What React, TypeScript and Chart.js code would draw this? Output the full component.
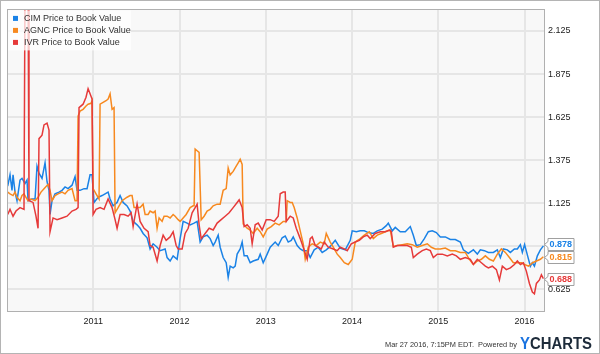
import React, { useEffect, useRef } from "react";
import { Chart, registerables } from "chart.js";

Chart.register(...registerables);

// ---- Data (decimal years, price-to-book values) ----
const CIM_DATES = [2010.008, 2010.035, 2010.058, 2010.070, 2010.093, 2010.116, 2010.151, 2010.174, 2010.209, 2010.232, 2010.244, 2010.290, 2010.325, 2010.348, 2010.371, 2010.406, 2010.441, 2010.464, 2010.487, 2010.499, 2010.522, 2010.557, 2010.603, 2010.638, 2010.673, 2010.708, 2010.754, 2010.789, 2010.812, 2010.847, 2010.893, 2010.928, 2010.963, 2010.986, 2011.009, 2011.056, 2011.102, 2011.137, 2011.172, 2011.195, 2011.230, 2011.276, 2011.311, 2011.346, 2011.392, 2011.427, 2011.462, 2011.508, 2011.543, 2011.578, 2011.624, 2011.659, 2011.694, 2011.740, 2011.775, 2011.833, 2011.856, 2011.891, 2011.926, 2011.972, 2012.007, 2012.042, 2012.088, 2012.123, 2012.169, 2012.204, 2012.239, 2012.274, 2012.320, 2012.355, 2012.390, 2012.413, 2012.448, 2012.471, 2012.506, 2012.541, 2012.564, 2012.587, 2012.622, 2012.645, 2012.668, 2012.703, 2012.726, 2012.749, 2012.784, 2012.819, 2012.854, 2012.912, 2012.935, 2012.970, 2013.016, 2013.051, 2013.109, 2013.144, 2013.190, 2013.225, 2013.260, 2013.295, 2013.318, 2013.364, 2013.399, 2013.434, 2013.480, 2013.515, 2013.561, 2013.608, 2013.654, 2013.701, 2013.747, 2013.805, 2013.863, 2013.921, 2013.979, 2014.002, 2014.049, 2014.095, 2014.142, 2014.188, 2014.246, 2014.292, 2014.350, 2014.397, 2014.420, 2014.466, 2014.501, 2014.559, 2014.617, 2014.675, 2014.710, 2014.745, 2014.791, 2014.838, 2014.884, 2014.930, 2014.977, 2015.023, 2015.081, 2015.139, 2015.197, 2015.255, 2015.290, 2015.348, 2015.406, 2015.452, 2015.487, 2015.534, 2015.580, 2015.638, 2015.684, 2015.719, 2015.754, 2015.800, 2015.835, 2015.882, 2015.916, 2015.951, 2015.974, 2016.000, 2016.035, 2016.067, 2016.090, 2016.114, 2016.148, 2016.183, 2016.218];
const CIM_VALUES = [1.225, 1.29, 1.20, 1.29, 1.19, 1.14, 1.26, 1.27, 1.24, 1.26, 1.14, 1.15, 1.15, 1.34, 1.30, 1.27, 1.36, 1.25, 1.20, 1.06, 1.14, 1.18, 1.19, 1.20, 1.22, 1.21, 1.23, 1.28, 1.20, 1.20, 1.21, 1.21, 1.29, 1.29, 1.13, 1.16, 1.17, 1.18, 1.19, 1.15, 1.11, 1.13, 1.17, 1.13, 1.11, 1.08, 1.02, 1.00, 0.98, 0.95, 0.925, 0.86, 0.89, 0.87, 0.85, 0.86, 0.81, 0.79, 0.82, 0.80, 0.92, 1.02, 1.01, 1.00, 1.01, 1.02, 0.90, 0.93, 0.94, 0.92, 0.88, 0.90, 0.94, 0.87, 0.81, 0.78, 0.695, 0.76, 0.75, 0.76, 0.83, 0.86, 0.90, 0.82, 0.82, 0.78, 0.79, 0.80, 0.83, 0.78, 0.83, 0.87, 0.90, 0.88, 0.925, 0.935, 0.90, 0.91, 0.93, 0.88, 0.86, 0.85, 0.85, 0.81, 0.855, 0.87, 0.84, 0.855, 0.875, 0.91, 0.865, 0.855, 0.91, 0.965, 0.96, 0.965, 0.965, 0.955, 0.95, 0.965, 0.975, 0.995, 1.01, 0.965, 0.985, 0.96, 0.96, 0.99, 0.94, 0.88, 0.885, 0.92, 0.96, 0.965, 0.955, 0.93, 0.93, 0.915, 0.915, 0.90, 0.855, 0.835, 0.855, 0.83, 0.855, 0.85, 0.84, 0.84, 0.855, 0.81, 0.86, 0.855, 0.84, 0.86, 0.86, 0.885, 0.84, 0.885, 0.82, 0.76, 0.78, 0.76, 0.82, 0.855, 0.878];

const AGNC_DATES = [2010.008, 2010.035, 2010.070, 2010.093, 2010.116, 2010.151, 2010.174, 2010.197, 2010.220, 2010.244, 2010.278, 2010.325, 2010.360, 2010.394, 2010.429, 2010.476, 2010.499, 2010.522, 2010.557, 2010.592, 2010.638, 2010.673, 2010.708, 2010.754, 2010.789, 2010.812, 2010.824, 2010.847, 2010.882, 2010.916, 2010.940, 2010.974, 2010.986, 2010.998, 2011.032, 2011.067, 2011.079, 2011.114, 2011.148, 2011.172, 2011.195, 2011.218, 2011.241, 2011.253, 2011.288, 2011.334, 2011.392, 2011.427, 2011.450, 2011.473, 2011.508, 2011.543, 2011.578, 2011.601, 2011.636, 2011.659, 2011.694, 2011.717, 2011.740, 2011.763, 2011.798, 2011.821, 2011.856, 2011.891, 2011.926, 2011.949, 2011.984, 2012.007, 2012.042, 2012.077, 2012.123, 2012.158, 2012.169, 2012.181, 2012.204, 2012.227, 2012.251, 2012.285, 2012.320, 2012.355, 2012.390, 2012.436, 2012.471, 2012.506, 2012.541, 2012.564, 2012.587, 2012.622, 2012.657, 2012.680, 2012.703, 2012.726, 2012.738, 2012.784, 2012.819, 2012.854, 2012.900, 2012.935, 2012.970, 2013.016, 2013.063, 2013.109, 2013.155, 2013.202, 2013.237, 2013.248, 2013.283, 2013.306, 2013.329, 2013.364, 2013.399, 2013.434, 2013.457, 2013.492, 2013.538, 2013.584, 2013.631, 2013.677, 2013.701, 2013.747, 2013.782, 2013.828, 2013.863, 2013.910, 2013.956, 2014.002, 2014.037, 2014.095, 2014.142, 2014.200, 2014.246, 2014.292, 2014.339, 2014.385, 2014.443, 2014.478, 2014.524, 2014.582, 2014.640, 2014.698, 2014.756, 2014.814, 2014.872, 2014.919, 2014.965, 2015.023, 2015.081, 2015.139, 2015.197, 2015.255, 2015.313, 2015.360, 2015.406, 2015.452, 2015.499, 2015.545, 2015.592, 2015.638, 2015.684, 2015.731, 2015.777, 2015.824, 2015.870, 2015.916, 2015.963, 2016.000, 2016.046, 2016.093, 2016.137, 2016.183, 2016.218];
const AGNC_VALUES = [1.19, 1.18, 1.17, 1.19, 1.16, 1.14, 1.17, 1.18, 1.16, 1.14, 1.15, 1.14, 1.16, 1.19, 1.21, 1.235, 1.20, 1.14, 1.17, 1.18, 1.19, 1.18, 1.20, 1.21, 1.14, 1.14, 1.63, 1.66, 1.67, 1.69, 1.70, 1.705, 1.72, 1.21, 1.18, 1.15, 1.70, 1.71, 1.72, 1.73, 1.76, 1.67, 1.68, 1.07, 1.10, 1.14, 1.16, 1.17, 1.17, 1.10, 1.10, 1.10, 1.12, 1.06, 1.06, 1.08, 1.07, 1.08, 0.98, 1.04, 1.02, 1.05, 1.05, 1.04, 1.06, 1.05, 1.03, 1.02, 1.04, 1.06, 1.10, 1.11, 1.11, 1.44, 1.43, 1.42, 1.03, 1.05, 1.08, 1.09, 1.11, 1.12, 1.12, 1.20, 1.21, 1.33, 1.29, 1.31, 1.34, 1.36, 1.38, 1.35, 1.005, 0.98, 0.97, 0.95, 0.98, 0.96, 0.93, 0.975, 0.99, 1.01, 1.00, 1.02, 1.02, 1.14, 1.13, 1.13, 1.10, 1.04, 0.965, 0.89, 0.80, 0.87, 0.89, 0.88, 0.90, 0.89, 0.95, 0.90, 0.87, 0.83, 0.81, 0.78, 0.77, 0.80, 0.90, 0.92, 0.94, 0.96, 0.92, 0.94, 0.95, 0.96, 0.97, 0.875, 0.88, 0.885, 0.89, 0.885, 0.87, 0.88, 0.89, 0.87, 0.86, 0.86, 0.865, 0.85, 0.85, 0.84, 0.84, 0.80, 0.77, 0.79, 0.80, 0.82, 0.80, 0.79, 0.83, 0.86, 0.84, 0.81, 0.78, 0.78, 0.78, 0.77, 0.76, 0.78, 0.79, 0.80, 0.815];

const IVR_DATES = [2010.008, 2010.035, 2010.070, 2010.104, 2010.151, 2010.197, 2010.209, 2010.244, 2010.255, 2010.302, 2010.336, 2010.360, 2010.371, 2010.406, 2010.429, 2010.464, 2010.487, 2010.499, 2010.534, 2010.580, 2010.638, 2010.696, 2010.754, 2010.800, 2010.824, 2010.835, 2010.882, 2010.916, 2010.940, 2010.963, 2010.986, 2010.998, 2011.032, 2011.079, 2011.125, 2011.172, 2011.218, 2011.253, 2011.276, 2011.311, 2011.357, 2011.404, 2011.439, 2011.462, 2011.508, 2011.543, 2011.589, 2011.636, 2011.659, 2011.694, 2011.740, 2011.775, 2011.810, 2011.845, 2011.891, 2011.926, 2011.961, 2011.984, 2012.030, 2012.065, 2012.100, 2012.146, 2012.181, 2012.204, 2012.227, 2012.251, 2012.297, 2012.343, 2012.390, 2012.436, 2012.483, 2012.529, 2012.575, 2012.622, 2012.668, 2012.691, 2012.726, 2012.749, 2012.784, 2012.819, 2012.842, 2012.877, 2012.912, 2012.958, 2013.005, 2013.051, 2013.097, 2013.144, 2013.167, 2013.202, 2013.225, 2013.237, 2013.283, 2013.318, 2013.353, 2013.399, 2013.434, 2013.480, 2013.515, 2013.538, 2013.573, 2013.608, 2013.643, 2013.677, 2013.724, 2013.782, 2013.828, 2013.863, 2013.910, 2013.944, 2013.991, 2014.037, 2014.084, 2014.130, 2014.176, 2014.211, 2014.269, 2014.327, 2014.385, 2014.432, 2014.455, 2014.478, 2014.524, 2014.582, 2014.640, 2014.687, 2014.710, 2014.756, 2014.814, 2014.861, 2014.907, 2014.942, 2014.988, 2015.046, 2015.104, 2015.162, 2015.209, 2015.255, 2015.313, 2015.371, 2015.406, 2015.452, 2015.499, 2015.545, 2015.580, 2015.626, 2015.673, 2015.708, 2015.742, 2015.789, 2015.835, 2015.882, 2015.916, 2015.951, 2015.986, 2016.021, 2016.056, 2016.090, 2016.114, 2016.137, 2016.172, 2016.195, 2016.218];
const IVR_VALUES = [1.06, 1.09, 1.05, 1.08, 1.10, 1.09, 2.40, 2.40, 1.14, 1.13, 1.05, 0.98, 1.50, 1.52, 1.58, 1.59, 1.55, 0.96, 1.04, 1.03, 1.04, 1.05, 1.08, 1.09, 1.10, 1.68, 1.70, 1.74, 1.79, 1.76, 1.73, 1.06, 1.09, 1.10, 1.09, 1.15, 1.10, 1.03, 0.98, 1.06, 1.06, 1.05, 1.07, 0.99, 1.12, 1.02, 0.98, 0.96, 0.88, 0.87, 0.79, 0.88, 0.94, 0.91, 0.93, 0.96, 0.88, 0.86, 0.86, 0.95, 0.98, 1.07, 1.10, 1.12, 1.00, 0.92, 0.95, 0.98, 0.97, 1.01, 1.03, 1.05, 1.07, 1.10, 1.13, 1.145, 1.10, 0.99, 1.00, 0.98, 0.89, 1.00, 1.01, 0.97, 1.03, 1.03, 1.02, 1.05, 1.18, 1.19, 1.19, 1.02, 1.05, 1.04, 0.98, 0.92, 0.87, 0.80, 0.92, 0.93, 0.88, 0.87, 0.86, 0.90, 0.87, 0.86, 0.85, 0.87, 0.86, 0.85, 0.89, 0.90, 0.91, 0.93, 0.94, 0.92, 0.95, 0.96, 0.96, 0.97, 0.96, 0.87, 0.88, 0.88, 0.88, 0.87, 0.81, 0.83, 0.85, 0.86, 0.85, 0.81, 0.83, 0.83, 0.82, 0.83, 0.82, 0.80, 0.81, 0.80, 0.77, 0.80, 0.78, 0.76, 0.75, 0.76, 0.74, 0.68, 0.76, 0.74, 0.75, 0.77, 0.79, 0.77, 0.78, 0.73, 0.66, 0.61, 0.60, 0.66, 0.68, 0.71, 0.688];

const SERIES_NAMES = ["CIM Price to Book Value", "AGNC Price to Book Value", "IVR Price to Book Value"];
const SERIES_COLORS = ["#1a82e6", "#f7891f", "#e63a3a"];
const LAST_LABELS = ["0.878", "0.815", "0.688"];
const YEAR_TICKS = [2011, 2012, 2013, 2014, 2015, 2016];
const VALUE_TICKS = [0.625, 0.875, 1.125, 1.375, 1.625, 1.875, 2.125];
const FOOTER_TEXT = "Mar 27 2016, 7:15PM EDT.  Powered by";

const FONT = "'Liberation Sans', Arial, sans-serif";

const toPoints = (dates: number[], values: number[]) =>
  dates.map((d, i) => ({ x: d, y: values[i] }));

const decorPlugin = {
  id: "decor",
  beforeDraw(chart: any) {
    const { ctx, chartArea: a } = chart;
    ctx.save();
    ctx.fillStyle = "#ffffff";
    ctx.fillRect(0, 0, chart.width, chart.height);
    ctx.fillStyle = "#f8f8f8";
    ctx.fillRect(a.left, a.top, a.right - a.left, a.bottom - a.top);
    ctx.restore();
  },
  afterDatasetsDraw(chart: any) {
    const { ctx, chartArea: a } = chart;
    ctx.save();
    // legend
    ctx.fillStyle = "rgba(255,255,255,0.72)";
    ctx.fillRect(a.left + 1, a.top + 1, 123, 40);
    ctx.font = `9px ${FONT}`;
    ctx.textBaseline = "middle";
    ctx.textAlign = "left";
    SERIES_NAMES.forEach((name, i) => {
      const y = a.top + 9.5 + i * 12;
      ctx.fillStyle = SERIES_COLORS[i];
      ctx.fillRect(a.left + 6, y - 3, 5, 5);
      ctx.fillStyle = "#333333";
      ctx.fillText(name, a.left + 17, y);
    });
    // plot border
    ctx.strokeStyle = "#b0b0b0";
    ctx.lineWidth = 1;
    ctx.strokeRect(Math.round(a.left) + 0.5, Math.round(a.top) + 0.5, Math.round(a.right - a.left), Math.round(a.bottom - a.top));
    ctx.restore();
  },
  afterDraw(chart: any) {
    const { ctx, chartArea: a, scales } = chart;
    const ys = scales.y;
    ctx.save();
    // value flags
    const flags = chart.data.datasets.map((ds: any, i: number) => {
      const last = ds.data[ds.data.length - 1];
      return { y: ys.getPixelForValue(last.y), color: SERIES_COLORS[i], text: LAST_LABELS[i] };
    });
    flags.sort((p: any, q: any) => p.y - q.y);
    for (let i = flags.length - 2; i >= 0; i--) {
      if (flags[i + 1].y - flags[i].y < 13) flags[i].y = flags[i + 1].y - 13;
    }
    ctx.font = `bold 9px ${FONT}`;
    ctx.textBaseline = "middle";
    ctx.textAlign = "left";
    flags.forEach((f: any) => {
      const tip = a.right + 0.5;
      const x0 = tip + 3.5;
      const x1 = x0 + 26;
      const t = Math.round(f.y) - 6 + 0.5;
      const b = t + 12;
      const yc = Math.round(f.y) + 0.5;
      ctx.beginPath();
      ctx.moveTo(tip, yc);
      ctx.lineTo(x0, yc - 3);
      ctx.lineTo(x0, t);
      ctx.lineTo(x1, t);
      ctx.lineTo(x1, b);
      ctx.lineTo(x0, b);
      ctx.lineTo(x0, yc + 3);
      ctx.closePath();
      ctx.fillStyle = "#ffffff";
      ctx.fill();
      ctx.strokeStyle = "#a0a0a0";
      ctx.lineWidth = 1;
      ctx.stroke();
      ctx.fillStyle = f.color;
      ctx.fillText(f.text, x0 + 1.5, yc + 0.5);
    });
    // footer
    ctx.textBaseline = "alphabetic";
    ctx.font = `8px ${FONT}`;
    const fw = ctx.measureText(FOOTER_TEXT).width;
    const target = 132;
    ctx.save();
    ctx.translate(385, 347);
    ctx.scale(target / fw, 1);
    ctx.fillStyle = "#333333";
    ctx.fillText(FOOTER_TEXT, 0, 0);
    ctx.restore();
    ctx.font = `bold 16px ${FONT}`;
    const wY = ctx.measureText("Y").width;
    const wAll = ctx.measureText("YCHARTS").width;
    ctx.save();
    ctx.translate(520, 349);
    ctx.scale(72 / wAll, 1);
    ctx.fillStyle = "#1a73e0";
    ctx.fillText("Y", 0, 0);
    ctx.fillStyle = "#1d2b3a";
    ctx.fillText("CHARTS", wY, 0);
    ctx.restore();
    // outer frame
    ctx.strokeStyle = "#b4b4b4";
    ctx.lineWidth = 1;
    ctx.strokeRect(0.5, 0.5, chart.width - 1, chart.height - 1);
    ctx.restore();
  },
};

export default function App() {
  const ref = useRef<HTMLCanvasElement | null>(null);
  useEffect(() => {
    if (!ref.current) return;
    const gridColor = "#e6e6e6";
    const chart = new Chart(ref.current, {
      type: "line",
      data: {
        datasets: [
          { label: SERIES_NAMES[0], data: toPoints(CIM_DATES, CIM_VALUES), borderColor: SERIES_COLORS[0], order: 2 },
          { label: SERIES_NAMES[1], data: toPoints(AGNC_DATES, AGNC_VALUES), borderColor: SERIES_COLORS[1], order: 1 },
          { label: SERIES_NAMES[2], data: toPoints(IVR_DATES, IVR_VALUES), borderColor: SERIES_COLORS[2], order: 0 },
        ],
      },
      options: {
        animation: false,
        responsive: false,
        maintainAspectRatio: false,
        layout: { padding: { left: 7, top: 7, right: 0, bottom: 0 } },
        plugins: { legend: { display: false }, tooltip: { enabled: false } },
        elements: {
          point: { radius: 0 },
          line: { borderWidth: 1.5, tension: 0, fill: false },
        },
        scales: {
          x: {
            type: "linear",
            min: 2010,
            max: 2016.225,
            afterBuildTicks: (s: any) => {
              s.ticks = YEAR_TICKS.map((v) => ({ value: v }));
            },
            afterFit: (s: any) => {
              s.height = 43;
            },
            grid: { color: gridColor, lineWidth: 2, drawTicks: false },
            border: { display: false },
            ticks: {
              padding: 5,
              autoSkip: false,
              maxRotation: 0,
              color: "#222222",
              font: { family: FONT, size: 9 },
              callback: (v: any) => String(v),
            },
          },
          y: {
            type: "linear",
            position: "right",
            min: 0.5,
            max: 2.25,
            afterBuildTicks: (s: any) => {
              s.ticks = VALUE_TICKS.map((v) => ({ value: v }));
            },
            afterFit: (s: any) => {
              s.width = 56;
            },
            grid: { color: gridColor, lineWidth: 2, drawTicks: false },
            border: { display: false },
            ticks: {
              padding: 4,
              color: "#222222",
              font: { family: FONT, size: 9 },
              callback: (v: any) => (Math.abs(v - 0.875) < 1e-6 ? "" : Number(v).toFixed(3)),
            },
          },
        },
      },
      plugins: [decorPlugin],
    } as any);
    return () => chart.destroy();
  }, []);
  return (
    <div style={{ position: "absolute", left: 0, top: 0, width: 600, height: 354 }}>
      <canvas ref={ref} width={600} height={354} style={{ display: "block", width: 600, height: 354 }} />
    </div>
  );
}
